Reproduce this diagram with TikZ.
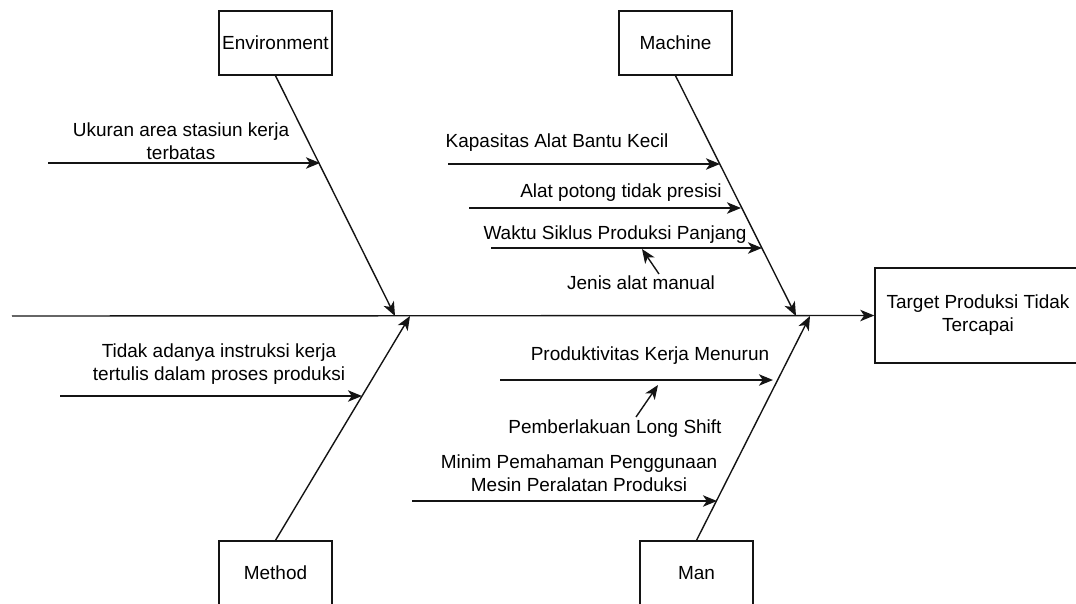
\documentclass[tikz,border=0pt]{standalone}
\usepackage{fontspec}
\setmainfont{Liberation Sans}
\usepackage{tikz}
\usetikzlibrary{arrows.meta,positioning}
\usepackage{xcolor}
\definecolor{fbline}{RGB}{20,20,20}
\tikzstyle{category} = [rectangle, minimum width=2.26cm, minimum height=1.28cm, text centered, draw=fbline, line width=0.8pt, inner sep=0pt]
\tikzstyle{effect} = [rectangle, minimum width=4.12cm, minimum height=1.9cm, align=center, draw=fbline, line width=0.8pt, inner sep=0pt]
\tikzstyle{label} = [align=center, inner sep=0pt]
\tikzstyle{arrow} = [line width=0.8pt,-{Stealth[length=8pt,width=6.5pt,inset=2.2pt]},color=fbline]

\begin{document}
\begin{tikzpicture}[x=0.02cm, y=-0.02cm, font=\fontsize{10.8}{13}\selectfont]
\useasboundingbox (0,0) rectangle (1076,603);
% effect and spine
\node (target) [effect] at (978,315.5) {Target Produksi Tidak\\Tercapai};
\coordinate (spinestart) at (12,316);
\draw [arrow] (spinestart) -- (target.west);
% main categories
\node (env) [category] at (275.5,43) {Environment};
\node (mach) [category] at (675.5,43) {Machine};
\node (meth) [category] at (275.5,573) {Method};
\node (man) [category] at (696.5,573) {Man};
\coordinate (jenv) at (395,316);
\coordinate (jmach) at (796,316);
\coordinate (jmeth) at (410,316);
\coordinate (jman) at (810,316);
\draw [arrow] (env.south) -- (jenv);
\draw [arrow] (mach.south) -- (jmach);
\draw [arrow] (meth.north) -- (jmeth);
\draw [arrow] (man.north) -- (jman);
% environment
\node (ukuran) [label] at (181,141) {Ukuran area stasiun kerja\\terbatas};
\coordinate (ukuranA) at (48,163);
\coordinate (ukuranB) at (320,163);
\draw [arrow] (ukuranA) -- (ukuranB);
% machine
\node (kapasitas) [label] at (557,143) {Kapasitas Alat Bantu Kecil};
\coordinate (kapasitasA) at (448,164);
\coordinate (kapasitasB) at (720,164);
\draw [arrow] (kapasitasA) -- (kapasitasB);
\node (potong) [label] at (621,193) {Alat potong tidak presisi};
\coordinate (potongA) at (469,208);
\coordinate (potongB) at (741,208);
\draw [arrow] (potongA) -- (potongB);
\node (waktu) [label] at (615,235) {Waktu Siklus Produksi Panjang};
\coordinate (waktuA) at (491,248);
\coordinate (waktuB) at (762,248);
\draw [arrow] (waktuA) -- (waktuB);
\node (jenis) [label] at (641,283) {Jenis alat manual};
\coordinate (jenisA) at (659,274);
\coordinate (jenisB) at (642,249);
\draw [arrow] (jenisA) -- (jenisB);
% method
\node (instruksi) [label] at (219,364) {Tidak adanya instruksi kerja\\tertulis dalam proses produksi};
\coordinate (instruksiA) at (60,396);
\coordinate (instruksiB) at (362,396);
\draw [arrow] (instruksiA) -- (instruksiB);
% man
\node (produktif) [label] at (650,356) {Produktivitas Kerja Menurun};
\coordinate (produktifA) at (500,380);
\coordinate (produktifB) at (773,380);
\draw [arrow] (produktifA) -- (produktifB);
\node (shift) [label] at (615,429) {Pemberlakuan Long Shift};
\coordinate (shiftA) at (636,417);
\coordinate (shiftB) at (658,385);
\draw [arrow] (shiftA) -- (shiftB);
\node (pemahaman) [label] at (579,473) {Minim Pemahaman Penggunaan\\Mesin Peralatan Produksi};
\coordinate (pemahamanA) at (412,501);
\coordinate (pemahamanB) at (717,501);
\draw [arrow] (pemahamanA) -- (pemahamanB);
\end{tikzpicture}
\end{document}
